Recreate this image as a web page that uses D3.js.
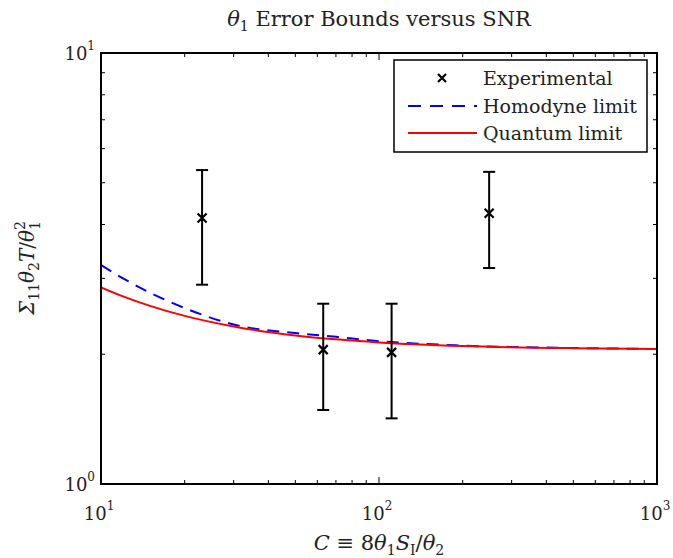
<!DOCTYPE html>
<html><head><meta charset="utf-8">
<script src="https://cdn.jsdelivr.net/npm/d3@7/dist/d3.min.js"></script>
<style>body{margin:0;background:#fff}svg{display:block}text{font-family:"DejaVu Serif",serif;fill:#222}</style>
</head><body><svg id="c" width="673" height="558"></svg>
<script>
// ---- data ----
const xDecades = [10, 100, 1000];
const xExponents = ["1", "2", "3"];
const yDecades = [1, 10];
const yExponents = ["0", "1"];
const expC = [23.1, 63, 111, 249];
const expVal = [4.14, 2.05, 2.02, 4.25];
const expLow = [2.90, 1.485, 1.42, 3.17];
const expHigh = [5.35, 2.62, 2.62, 5.30];
const curveC = [10, 12, 15, 20, 30, 50, 70, 100, 200, 500, 1000];
const homodyne = [3.22, 3.0, 2.78, 2.56, 2.345, 2.24, 2.195, 2.145, 2.095, 2.068, 2.057];
const quantum = [2.86, 2.725, 2.59, 2.455, 2.32, 2.212, 2.166, 2.131, 2.09, 2.066, 2.058];
const legendLabels = ["Experimental", "Homodyne limit", "Quantum limit"];

const svg = d3.select("#c");
const L = 101, R = 657, T = 53, B = 484;
const x = d3.scaleLog().domain([10, 1000]).range([L, R]);
const y = d3.scaleLog().domain([1, 10]).range([B, T]);

// ticks
const minorX = [], minorY = [];
for (let d = 10; d < 1000; d *= 10) for (let k = 2; k <= 9; k++) minorX.push(d * k);
for (let k = 2; k <= 9; k++) minorY.push(k);
const tk = svg.append("g").attr("stroke", "#000").attr("stroke-width", 1);
const MJ = 7, MN = 4;
xDecades.forEach(v => { tk.append("line").attr("x1", x(v)).attr("x2", x(v)).attr("y1", B).attr("y2", B - MJ);
  tk.append("line").attr("x1", x(v)).attr("x2", x(v)).attr("y1", T).attr("y2", T + MJ); });
minorX.forEach(v => { tk.append("line").attr("x1", x(v)).attr("x2", x(v)).attr("y1", B).attr("y2", B - MN);
  tk.append("line").attr("x1", x(v)).attr("x2", x(v)).attr("y1", T).attr("y2", T + MN); });
minorY.forEach(v => { tk.append("line").attr("y1", y(v)).attr("y2", y(v)).attr("x1", L).attr("x2", L + MN);
  tk.append("line").attr("y1", y(v)).attr("y2", y(v)).attr("x1", R).attr("x2", R - MN); });

// tick labels
xDecades.forEach((v, i) => {
  const t = svg.append("text").attr("x", x(v) - 2).attr("y", 520).attr("text-anchor", "middle").attr("font-size", 18);
  t.append("tspan").text("10");
  t.append("tspan").attr("dy", -10).attr("font-size", 12).text(xExponents[i]);
});
yDecades.forEach((v, i) => {
  const t = svg.append("text").attr("x", 95).attr("y", y(v) + 7).attr("text-anchor", "end").attr("font-size", 18);
  t.append("tspan").text("10");
  t.append("tspan").attr("dy", -10).attr("font-size", 12).text(yExponents[i]);
});

// curves
const line = d3.line().x(d => x(d[0])).y(d => y(d[1])).curve(d3.curveMonotoneX);
svg.append("clipPath").attr("id", "pc").append("rect").attr("x", L).attr("y", T).attr("width", R - L).attr("height", B - T);
svg.append("path").attr("clip-path", "url(#pc)").attr("d", line(curveC.map((c, i) => [c, homodyne[i]])))
  .attr("fill", "none").attr("stroke", "#0000ff").attr("stroke-width", 2).attr("stroke-dasharray", "12,8");
svg.append("path").attr("clip-path", "url(#pc)").attr("d", line(curveC.map((c, i) => [c, quantum[i]])))
  .attr("fill", "none").attr("stroke", "#ff0000").attr("stroke-width", 2);

// error bars
const eb = svg.append("g").attr("stroke", "#000").attr("stroke-width", 2);
expC.forEach((c, i) => {
  const cx = x(c);
  eb.append("line").attr("x1", cx).attr("x2", cx).attr("y1", y(expLow[i])).attr("y2", y(expHigh[i]));
  eb.append("line").attr("x1", cx - 6).attr("x2", cx + 6).attr("y1", y(expLow[i])).attr("y2", y(expLow[i]));
  eb.append("line").attr("x1", cx - 6).attr("x2", cx + 6).attr("y1", y(expHigh[i])).attr("y2", y(expHigh[i]));
  const cy = y(expVal[i]), s = 4.5;
  eb.append("path").attr("d", `M${cx - s},${cy - s}L${cx + s},${cy + s}M${cx - s},${cy + s}L${cx + s},${cy - s}`).attr("stroke-width", 2.2);
});

// axes box
svg.append("rect").attr("x", L).attr("y", T).attr("width", R - L).attr("height", B - T)
  .attr("fill", "none").attr("stroke", "#000").attr("stroke-width", 2);

// legend
const lg = svg.append("g");
lg.append("rect").attr("x", 394).attr("y", 60).attr("width", 253).attr("height", 92)
  .attr("fill", "#fff").attr("stroke", "#000").attr("stroke-width", 1.5);
const rowY = [78, 106, 133];
legendLabels.forEach((lab, i) => {
  lg.append("text").attr("x", 483).attr("y", rowY[i] + 7).attr("font-size", 19).text(lab);
});
{ const cx = 442, cy = rowY[0], s = 4;
  lg.append("path").attr("d", `M${cx - s},${cy - s}L${cx + s},${cy + s}M${cx - s},${cy + s}L${cx + s},${cy - s}`).attr("stroke", "#000").attr("stroke-width", 2.2); }
lg.append("line").attr("x1", 408).attr("x2", 477).attr("y1", rowY[1]).attr("y2", rowY[1])
  .attr("stroke", "#0000ff").attr("stroke-width", 2).attr("stroke-dasharray", "13,9");
lg.append("line").attr("x1", 408).attr("x2", 477).attr("y1", rowY[2]).attr("y2", rowY[2])
  .attr("stroke", "#ff0000").attr("stroke-width", 2);

// title
const tt = svg.append("text").attr("x", 379).attr("y", 26).attr("text-anchor", "middle").attr("font-size", 21);
tt.append("tspan").attr("font-style", "italic").text("θ");
tt.append("tspan").attr("dy", 5).attr("font-size", 14).text("1");
tt.append("tspan").attr("dy", -5).text(" Error Bounds versus SNR");

// x label
const xl = svg.append("text").attr("x", 379).attr("y", 550).attr("text-anchor", "middle").attr("font-size", 21);
xl.append("tspan").attr("font-style", "italic").text("C");
xl.append("tspan").text(" ≡ 8");
xl.append("tspan").attr("font-style", "italic").text("θ");
xl.append("tspan").attr("dy", 5).attr("font-size", 14).text("1");
xl.append("tspan").attr("dy", -5).attr("font-style", "italic").text("S");
xl.append("tspan").attr("dy", 5).attr("font-size", 14).text("I");
xl.append("tspan").attr("dy", -5).text("/");
xl.append("tspan").attr("font-style", "italic").text("θ");
xl.append("tspan").attr("dy", 5).attr("font-size", 14).text("2");

// y label
const yl = svg.append("text").attr("transform", "translate(34,268) rotate(-90)").attr("text-anchor", "middle").attr("font-size", 20);
yl.append("tspan").attr("font-style", "italic").text("Σ");
yl.append("tspan").attr("dy", 5).attr("font-size", 14).text("11");
yl.append("tspan").attr("dy", -5).attr("font-style", "italic").text("θ");
yl.append("tspan").attr("dy", 5).attr("font-size", 14).text("2");
yl.append("tspan").attr("dy", -5).attr("font-style", "italic").text("T");
yl.append("tspan").text("/");
yl.append("tspan").attr("font-style", "italic").text("θ");
yl.append("tspan").attr("dy", -9).attr("font-size", 14).text("2");
yl.append("tspan").attr("dx", -9).attr("dy", 15).attr("font-size", 14).text("1");
</script></body></html>
